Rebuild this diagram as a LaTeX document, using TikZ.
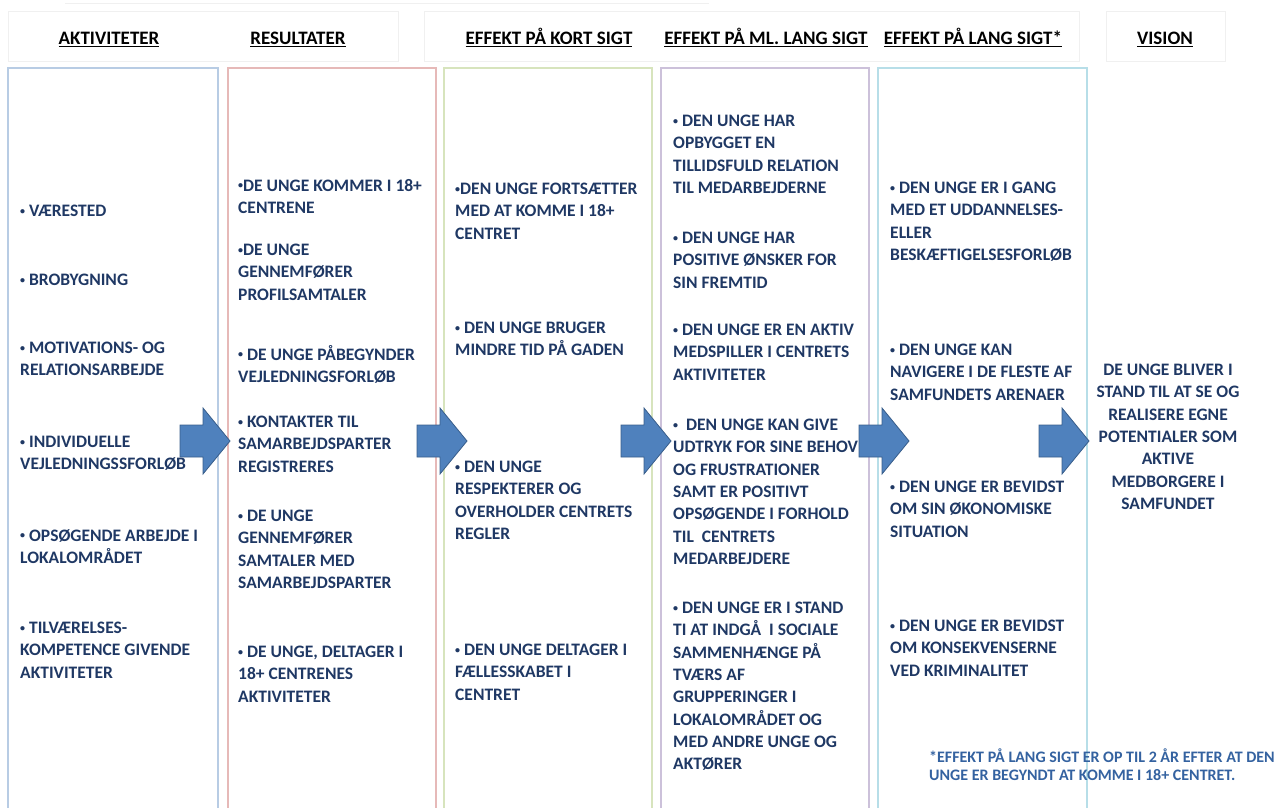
\documentclass[tikz,border=0pt]{standalone}
\usepackage{fontspec}
\setmainfont{Carlito}
\definecolor{boxblue}{RGB}{184,204,228}
\definecolor{boxred}{RGB}{230,185,184}
\definecolor{boxgreen}{RGB}{215,228,189}
\definecolor{boxviolet}{RGB}{204,193,218}
\definecolor{boxcyan}{RGB}{183,222,232}
\definecolor{navy}{RGB}{31,56,100}
\definecolor{arrowfill}{RGB}{79,129,189}
\definecolor{arrowline}{RGB}{56,93,138}
\definecolor{notecol}{RGB}{52,98,160}
\newcommand{\bul}{{\fontsize{10}{10}\selectfont\raisebox{2.4pt}{•}}}
\tikzset{
  head/.style={anchor=base, inner sep=0pt, font=\fontsize{19}{22}\selectfont\bfseries},
  item/.style={anchor=north west, inner sep=0pt, align=left, text=navy,
    font=\fontsize{17.5}{22.3}\selectfont\bfseries, execute at begin node=\strut},
  frame/.style={line width=2.5pt},
  faint/.style={black!6, line width=1pt},
  bigarrow/.style={fill=arrowfill, draw=arrowline, line width=0.8pt}
}
\begin{document}
\begin{tikzpicture}[x=1pt,y=-1pt]
  \useasboundingbox (0,0) rectangle (1274,808);
  \clip (0,0) rectangle (1274,808);

  % faint header boxes
  \draw[faint] (65,4) -- (709,4);
  \draw[faint] (8,12) rectangle (398,62);
  \draw[faint] (424,12) rectangle (1079,62);
  \draw[faint] (1106,12) rectangle (1225,62);

  % headers
  \node[head] (h1) at (109,45) {\underline{AKTIVITETER}};
  \node[head] (h2) at (298,45) {\underline{RESULTATER}};
  \node[head] (h3) at (549,45) {\underline{EFFEKT PÅ KORT SIGT}};
  \node[head] (h4) at (766,45) {\underline{EFFEKT PÅ ML. LANG SIGT}};
  \node[head] (h5) at (973,45) {\underline{EFFEKT PÅ LANG SIGT*}};
  \node[head] (h6) at (1165,45) {\underline{VISION}};

  % column frames
  \draw[frame, boxblue] (8,68) rectangle (218,830);
  \draw[frame, boxred] (228,68) rectangle (436,830);
  \draw[frame, boxgreen] (444,68) rectangle (652,830);
  \draw[frame, boxviolet] (661,68) rectangle (869,830);
  \draw[frame, boxcyan] (878,68) rectangle (1087,830);

  % aktiviteter
  \node[item] (a1) at (20,201) {\bul\ VÆRESTED};
  \node[item] (a2) at (20,270) {\bul\ BROBYGNING};
  \node[item] (a3) at (20,342) {\bul\ MOTIVATIONS- OG\\RELATIONSARBEJDE};
  \node[item] (a4) at (20,436) {\bul\ INDIVIDUELLE\\VEJLEDNINGSSFORLØB};
  \node[item] (a5) at (20,529) {\bul\ OPSØGENDE ARBEJDE I\\LOKALOMRÅDET};
  \node[item] (a6) at (20,622) {\bul\ TILVÆRELSES-\\KOMPETENCE GIVENDE\\AKTIVITETER};

  % resultater
  \node[item] (r1) at (238,179) {\bul DE UNGE KOMMER I 18+\\CENTRENE};
  \node[item] (r2) at (238,244) {\bul DE UNGE\\GENNEMFØRER\\PROFILSAMTALER};
  \node[item] (r3) at (238,345) {\bul\ DE UNGE PÅBEGYNDER\\VEJLEDNINGSFORLØB};
  \node[item] (r4) at (238,416) {\bul\ KONTAKTER TIL\\SAMARBEJDSPARTER\\REGISTRERES};
  \node[item] (r5) at (238,510) {\bul\ DE UNGE\\GENNEMFØRER\\SAMTALER MED\\SAMARBEJDSPARTER};
  \node[item] (r6) at (238,646) {\bul\ DE UNGE, DELTAGER I\\18+ CENTRENES\\AKTIVITETER};

  % effekt paa kort sigt
  \node[item] (k1) at (455,183) {\bul DEN UNGE FORTSÆTTER\\MED AT KOMME I 18+\\CENTRET};
  \node[item] (k2) at (455,322) {\bul\ DEN UNGE BRUGER\\MINDRE TID PÅ GADEN};
  \node[item] (k3) at (455,461) {\bul\ DEN UNGE\\RESPEKTERER OG\\OVERHOLDER CENTRETS\\REGLER};
  \node[item] (k4) at (455,644) {\bul\ DEN UNGE DELTAGER I\\FÆLLESSKABET I\\CENTRET};

  % effekt paa ml. lang sigt
  \node[item] (m1) at (673,115) {\bul\ DEN UNGE HAR\\OPBYGGET EN\\TILLIDSFULD RELATION\\TIL MEDARBEJDERNE};
  \node[item] (m2) at (673,232) {\bul\ DEN UNGE HAR\\POSITIVE ØNSKER FOR\\SIN FREMTID};
  \node[item] (m3) at (673,324) {\bul\ DEN UNGE ER EN AKTIV\\MEDSPILLER I CENTRETS\\AKTIVITETER};
  \node[item] (m4) at (673,419) {\bul~~DEN UNGE KAN GIVE\\UDTRYK FOR SINE BEHOV\\OG FRUSTRATIONER\\SAMT ER POSITIVT\\OPSØGENDE I FORHOLD\\TIL~ CENTRETS\\MEDARBEJDERE};
  \node[item] (m5) at (673,602) {\bul\ DEN UNGE ER I STAND\\TI AT INDGÅ~ I SOCIALE\\SAMMENHÆNGE PÅ\\TVÆRS AF\\GRUPPERINGER I\\LOKALOMRÅDET OG\\MED ANDRE UNGE OG\\AKTØRER};

  % effekt paa lang sigt
  \node[item] (l1) at (890,182) {\bul\ DEN UNGE ER I GANG\\MED ET UDDANNELSES-\\ELLER\\BESKÆFTIGELSESFORLØB};
  \node[item] (l2) at (890,344) {\bul\ DEN UNGE KAN\\NAVIGERE I DE FLESTE AF\\SAMFUNDETS ARENAER};
  \node[item] (l3) at (890,481) {\bul\ DEN UNGE ER BEVIDST\\OM SIN ØKONOMISKE\\SITUATION};
  \node[item] (l4) at (890,620) {\bul\ DEN UNGE ER BEVIDST\\OM KONSEKVENSERNE\\VED KRIMINALITET};

  % vision
  \node[item, anchor=north, align=center] (vis) at (1168,364) {DE UNGE BLIVER I\\STAND TIL AT SE OG\\REALISERE EGNE\\POTENTIALER SOM\\AKTIVE\\MEDBORGERE I\\SAMFUNDET};

  % footnote
  \node[item, text=notecol, font=\fontsize{16}{17.5}\selectfont\bfseries] (note) at (929,749) {*EFFEKT PÅ LANG SIGT ER OP TIL 2 ÅR EFTER AT DEN\\UNGE ER BEGYNDT AT KOMME I 18+ CENTRET.};

  % arrows
  \foreach \x in {180,417,621,859,1039}
    \draw[bigarrow] (\x,425) -- (\x+23,425) -- (\x+23,408) -- (\x+50,441)
      -- (\x+23,474) -- (\x+23,457) -- (\x,457) -- cycle;
\end{tikzpicture}
\end{document}
